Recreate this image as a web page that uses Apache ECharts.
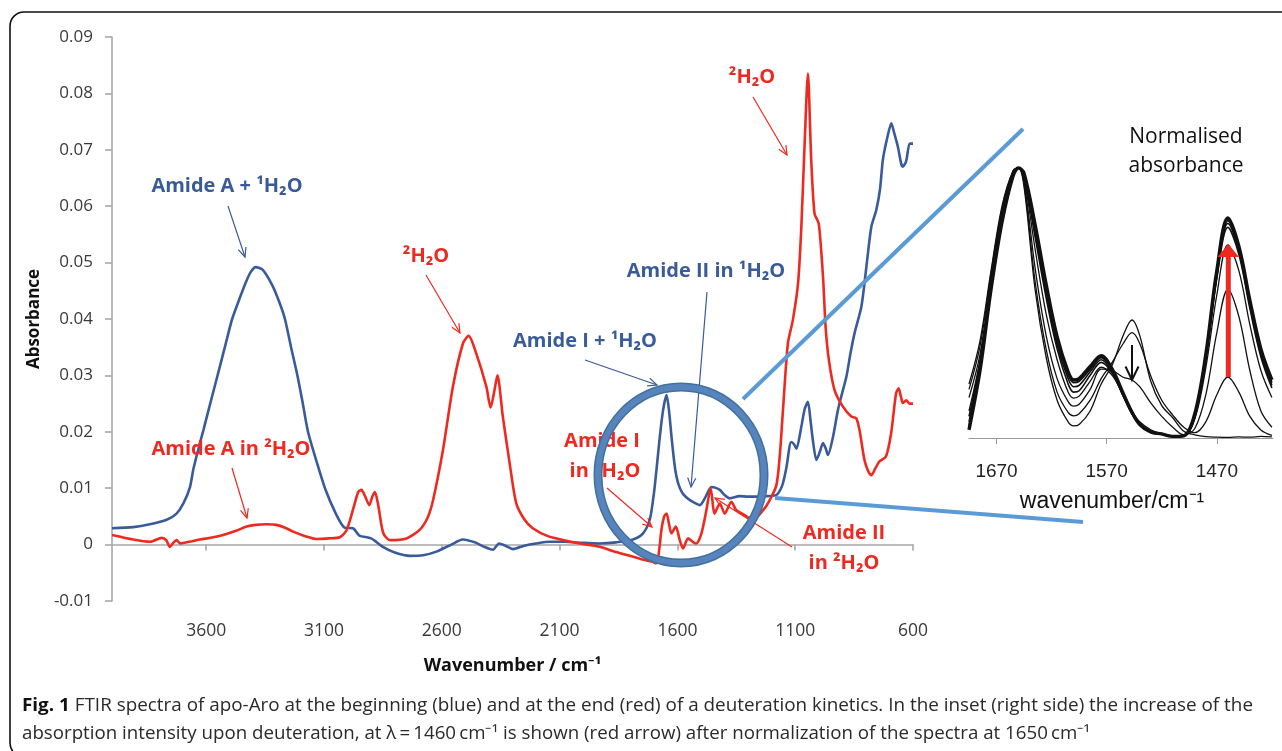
<!DOCTYPE html>
<html><head><meta charset="utf-8">
<script src="https://cdn.jsdelivr.net/npm/echarts@6/dist/echarts.min.js"></script>
<style>html,body{margin:0;padding:0;background:#fff}#c{width:1282px;height:751px}</style>
</head><body><div id="c"></div>
<script>
// ---------- main spectra (x = wavenumber / cm-1, y = absorbance) ----------
const wnBlue = [4000,3910,3839,3768,3726,3697,3669,3655,3630,3612,3580,3545,3515,3490,3457,3430,3410,3390,3360,3320,3290,3266,3240,3213,3190,3168,3130,3096,3050,3012,2977,2950,2900,2850,2800,2735,2680,2620,2560,2511,2460,2420,2383,2357,2330,2298,2250,2200,2142,2080,2000,1930,1860,1789,1746,1717,1700,1689,1675,1661,1646,1635,1625,1610,1597,1580,1565,1540,1505,1480,1456,1440,1420,1400,1378,1336,1300,1265,1220,1180,1155,1138,1117,1105,1095,1074,1060,1046,1035,1025,1010,995,982,970,961,940,919,900,883,865,848,819,798,777,756,740,728,710,692,680,664,650,643,629,614,600];
const absBlue = [0.0029,0.0031,0.0036,0.0044,0.0055,0.0073,0.0102,0.0133,0.0175,0.0203,0.0255,0.0311,0.036,0.040,0.0438,0.0467,0.0484,0.0492,0.0487,0.046,0.043,0.040,0.035,0.030,0.025,0.020,0.0145,0.010,0.0055,0.003,0.0029,0.0016,0.0011,-0.0004,-0.0014,-0.002,-0.0019,-0.0012,0.0,0.0009,0.0004,-0.0004,-0.0009,0.0002,-0.0002,-0.0008,-0.0002,0.0002,0.0005,0.0005,0.0003,0.0002,0.0004,0.0009,0.002,0.0045,0.009,0.0132,0.019,0.0238,0.0265,0.0235,0.0191,0.0135,0.0109,0.0092,0.0085,0.0077,0.007,0.0085,0.0102,0.0101,0.0097,0.0088,0.0082,0.0086,0.0085,0.0085,0.0086,0.0088,0.0105,0.0135,0.0182,0.0178,0.017,0.0209,0.024,0.0253,0.022,0.0185,0.015,0.0165,0.018,0.017,0.0159,0.019,0.0238,0.027,0.0297,0.034,0.0375,0.0422,0.0492,0.0563,0.0593,0.063,0.0682,0.072,0.0747,0.073,0.0705,0.0675,0.067,0.068,0.0711,0.0711];

const wnRed = [4000,3910,3838,3789,3770,3754,3740,3726,3710,3697,3660,3627,3570,3514,3470,3429,3390,3344,3302,3265,3231,3180,3132,3080,3033,3004,2975,2955,2941,2925,2908,2895,2884,2870,2849,2821,2750,2694,2660,2637,2595,2553,2510,2486,2454,2411,2393,2378,2364,2341,2312,2284,2250,2214,2150,2072,2000,1930,1862,1800,1744,1710,1689,1676,1668,1656,1646,1635,1625,1607,1590,1576,1555,1535,1520,1498,1477,1459,1442,1420,1399,1371,1350,1321,1279,1236,1208,1180,1165,1152,1131,1110,1088,1074,1060,1046,1032,1018,1000,982,971,957,933,898,862,841,827,806,790,777,760,743,715,693,672,661,650,643,629,615,600];
const absRed = [0.0017,0.0009,0.0005,0.0012,0.0008,-0.0004,0.0003,0.0008,0.0002,0.0003,0.0006,0.0009,0.0013,0.0019,0.0025,0.0032,0.0035,0.0036,0.0035,0.003,0.0023,0.0015,0.001,0.0011,0.0013,0.0026,0.0065,0.0093,0.0097,0.0085,0.007,0.0085,0.0093,0.007,0.0021,0.0008,0.0011,0.0026,0.0048,0.0079,0.0168,0.028,0.0357,0.037,0.0339,0.028,0.0243,0.027,0.030,0.0227,0.0144,0.0073,0.0045,0.0029,0.0015,0.0007,0.0001,-0.0004,-0.0013,-0.002,-0.0027,-0.003,-0.0033,-0.0005,0.0026,0.005,0.0055,0.0035,0.002,0.0032,0.0008,-0.0007,0.0011,0.0005,0.0002,0.002,0.0061,0.010,0.0055,0.0073,0.0055,0.0076,0.0061,0.0054,0.0044,0.0061,0.0079,0.0105,0.016,0.0238,0.0357,0.0398,0.0463,0.0563,0.0711,0.0835,0.0682,0.0587,0.0569,0.0475,0.0386,0.0327,0.0274,0.0245,0.0227,0.0224,0.0203,0.015,0.013,0.0123,0.0135,0.0147,0.0156,0.0197,0.0268,0.0277,0.026,0.0251,0.0256,0.025,0.025];

const mainXTicks = [600,1100,1600,2100,2600,3100,3600];

// ---------- inset: normalised absorbance ----------
const wnInset = [1695,1685,1675,1665,1655,1650,1645,1635,1625,1615,1605,1600,1595,1585,1575,1565,1555,1547,1540,1530,1520,1510,1500,1490,1480,1470,1460,1450,1440,1430,1420];
const inset0 = [0.20,0.36,0.62,0.86,0.99,1.0,0.93,0.55,0.30,0.14,0.06,0.045,0.05,0.10,0.20,0.27,0.38,0.437,0.38,0.21,0.12,0.075,0.025,0.012,0.005,0.003,0.002,0.004,0.003,0.006,0.004];
const inset1 = [0.18,0.34,0.61,0.85,0.99,1.0,0.94,0.58,0.33,0.17,0.095,0.082,0.09,0.14,0.22,0.28,0.35,0.39,0.35,0.23,0.14,0.085,0.04,0.02,0.06,0.16,0.226,0.17,0.08,0.03,0.01];
const inset2 = [0.15,0.31,0.59,0.84,0.985,1.0,0.95,0.63,0.38,0.22,0.135,0.118,0.125,0.18,0.255,0.25,0.225,0.215,0.19,0.13,0.08,0.04,0.012,0.035,0.16,0.39,0.55,0.45,0.25,0.10,0.04];
const inset3 = [0.10,0.29,0.57,0.82,0.98,1.0,0.96,0.70,0.46,0.29,0.17,0.148,0.155,0.21,0.262,0.232,0.16,0.10,0.06,0.03,0.015,0.008,0.01,0.07,0.26,0.53,0.715,0.62,0.42,0.25,0.15];
const inset4 = [0.08,0.28,0.565,0.815,0.978,1.0,0.965,0.745,0.52,0.33,0.20,0.17,0.175,0.232,0.28,0.24,0.155,0.09,0.048,0.02,0.013,0.007,0.01,0.078,0.29,0.59,0.78,0.68,0.48,0.30,0.185];
const inset5 = [0.06,0.27,0.56,0.81,0.975,1.0,0.97,0.76,0.54,0.345,0.22,0.19,0.195,0.245,0.29,0.245,0.157,0.09,0.048,0.021,0.014,0.007,0.01,0.08,0.295,0.60,0.795,0.69,0.49,0.31,0.195];
const inset6 = [0.045,0.26,0.555,0.805,0.97,1.0,0.975,0.775,0.555,0.36,0.235,0.205,0.21,0.255,0.298,0.25,0.16,0.092,0.05,0.022,0.014,0.007,0.009,0.08,0.30,0.61,0.805,0.70,0.50,0.32,0.205];
const insetFinal = [0.03,0.25,0.55,0.80,0.97,1.0,0.98,0.79,0.57,0.375,0.245,0.215,0.22,0.265,0.305,0.255,0.165,0.095,0.05,0.022,0.015,0.006,0.008,0.09,0.31,0.62,0.815,0.71,0.51,0.33,0.215];
const insetXTicks = [1470,1570,1670];

// ---------- texts ----------
const caption1Bold = 'Fig. 1';
const caption1 = ' FTIR spectra of apo-Aro at the beginning (blue) and at the end (red) of a deuteration kinetics. In the inset (right side) the increase of the';
const caption2 = 'absorption intensity upon deuteration, at \u03bb\u2009=\u20091460\u2009cm\u207b\u00b9 is shown (red arrow) after normalization of the spectra at 1650\u2009cm\u207b\u00b9';

const BLUE = '#3a5b99', RED = '#ee2a20', LBLUE = '#5b9bd5';
const FONT = '"Open Sans", "Noto Sans", sans-serif';

const chart = echarts.init(document.getElementById('c'), null, {renderer: 'canvas'});
const pair = (xs, ys) => xs.map((x, i) => [x, ys[i]]);

const mctx = document.createElement('canvas').getContext('2d');
function tw(t, f) { mctx.font = f; return mctx.measureText(t).width; }

function arrow(x1, y1, x2, y2, color, w, h) {
  const a = Math.atan2(y2 - y1, x2 - x1), sp = 0.42; h = h || 10;
  return [
    {type: 'line', z: 70, shape: {x1, y1, x2, y2}, style: {stroke: color, lineWidth: w}},
    {type: 'polyline', z: 70, shape: {points: [[x2 - h * Math.cos(a - sp), y2 - h * Math.sin(a - sp)], [x2, y2], [x2 - h * Math.cos(a + sp), y2 - h * Math.sin(a + sp)]]}, style: {stroke: color, lineWidth: w, fill: null}}
  ];
}
function label(x, y, text, color, size) {
  return {type: 'text', z: 50, x, y, style: {text, fill: color, font: 'bold ' + (size || 20) + 'px ' + FONT, align: 'center', verticalAlign: 'middle'}};
}

const capFontB = 'bold 18px "Open Sans"', capFont = '18px "Open Sans"';
const s1 = 1231 / (tw(caption1Bold, capFontB) + tw(caption1, capFont));
const s2 = 1068 / tw(caption2, capFont);

const insetLine = (data, w) => ({
  type: 'line', xAxisIndex: 1, yAxisIndex: 1, data: pair(wnInset, data), showSymbol: false, symbol: 'none',
  smooth: 0.35, clip: false, lineStyle: {color: '#111', width: w}, z: 3, silent: true
});

const graphic = [
  {type: 'rect', z: 1, shape: {x: 10, y: 12, width: 1300, height: 745, r: 14}, style: {fill: null, stroke: '#111', lineWidth: 1.6}},
  // labels
  label(227, 186, 'Amide A + \u00b9H\u2082O', BLUE),
  label(231, 449, 'Amide A in \u00b2H\u2082O', RED),
  label(426, 256, '\u00b2H\u2082O', RED),
  label(752, 77, '\u00b2H\u2082O', RED),
  label(706, 271, 'Amide II in \u00b9H\u2082O', BLUE),
  label(585, 341, 'Amide I + \u00b9H\u2082O', BLUE),
  label(602, 441, 'Amide I', RED),
  label(605, 471, 'in \u00b2H\u2082O', RED),
  label(844, 533, 'Amide II', RED),
  label(844, 563, 'in \u00b2H\u2082O', RED),
  ...arrow(228, 206, 245, 257, BLUE, 1.2),
  ...arrow(232, 468, 247, 518, RED, 1.2),
  ...arrow(426, 275, 460, 333, RED, 1.2),
  ...arrow(753, 97, 787, 155, RED, 1.2),
  ...arrow(707, 292, 691, 487, BLUE, 1.2),
  ...arrow(585, 360, 657, 385, BLUE, 1.2),
  ...arrow(607, 488, 652, 527, RED, 1.2),
  ...arrow(792, 547, 715, 498, RED, 1.2),
  // magnifier circle and connecting lines
  {type: 'ellipse', z: 80, shape: {cx: 681, cy: 475, rx: 83, ry: 88}, style: {fill: null, stroke: '#41719c', lineWidth: 9}},
  {type: 'ellipse', z: 81, shape: {cx: 681, cy: 475, rx: 83, ry: 88}, style: {fill: null, stroke: '#5884be', lineWidth: 6}},
  {type: 'line', z: 80, shape: {x1: 743, y1: 399, x2: 1023, y2: 129}, style: {stroke: LBLUE, lineWidth: 4}},
  {type: 'line', z: 80, shape: {x1: 775, y1: 498, x2: 1083, y2: 522}, style: {stroke: LBLUE, lineWidth: 4}},
  // inset texts and arrows
  {type: 'text', z: 50, x: 1186, y: 137, style: {text: 'Normalised', fill: '#111', font: '21px ' + FONT, align: 'center', verticalAlign: 'middle'}},
  {type: 'text', z: 50, x: 1186, y: 166, style: {text: 'absorbance', fill: '#111', font: '21px ' + FONT, align: 'center', verticalAlign: 'middle'}},
  {type: 'line', z: 60, shape: {x1: 1132, y1: 345, x2: 1132, y2: 379}, style: {stroke: '#111', lineWidth: 2}},
  {type: 'polyline', z: 60, shape: {points: [[1125.5, 366.5], [1132, 380], [1138.5, 366.5]]}, style: {stroke: '#111', lineWidth: 2, fill: null}},
  {type: 'line', z: 60, shape: {x1: 1228.3, y1: 377, x2: 1228.3, y2: 255}, style: {stroke: RED, lineWidth: 5}},
  {type: 'polygon', z: 60, shape: {points: [[1217.5, 257], [1239, 257], [1228.3, 244]]}, style: {fill: RED}},
  // caption
  {type: 'text', z: 50, x: 22, y: 706, scaleX: s1, style: {text: '{b|' + caption1Bold + '}' + caption1, font: capFont, fill: '#2a2a2a', verticalAlign: 'middle', align: 'left', rich: {b: {font: capFontB, fill: '#111'}}}},
  {type: 'text', z: 50, x: 22, y: 734, scaleX: s2, style: {text: caption2, font: capFont, fill: '#2a2a2a', verticalAlign: 'middle', align: 'left'}}
];

const option = {
  animation: false,
  backgroundColor: '#fff',
  grid: [
    {left: 112, top: 37, width: 801, height: 564},
    {left: 969, top: 168, width: 304, height: 270}
  ],
  xAxis: [
    {gridIndex: 0, type: 'value', min: 600, max: 4000, inverse: true,
     name: 'Wavenumber / cm\u207b\u00b9', nameLocation: 'middle', nameGap: 56,
     nameTextStyle: {fontFamily: FONT, fontWeight: 'bold', fontSize: 18, color: '#111'},
     axisLine: {lineStyle: {color: '#a8a8a8', width: 1.6}},
     axisTick: {show: true, length: 6, customValues: mainXTicks, lineStyle: {color: '#a8a8a8', width: 1.6}},
     axisLabel: {customValues: mainXTicks, margin: 21, fontFamily: FONT, fontSize: 17.5, color: '#3a3a3a', formatter: v => String(v)},
     splitLine: {show: false}},
    {gridIndex: 1, type: 'value', min: 1419, max: 1695, inverse: true,
     name: 'wavenumber/cm\u207b\u00b9', nameLocation: 'middle', nameGap: 52,
     nameTextStyle: {fontFamily: 'Liberation Sans, Arial', fontSize: 23, color: '#111', padding: [0, 18, 0, 0]},
     axisLine: {lineStyle: {color: '#999', width: 1}},
     axisTick: {show: true, length: 6, customValues: insetXTicks, lineStyle: {color: '#999'}},
     axisLabel: {customValues: insetXTicks, margin: 24, fontFamily: 'Liberation Sans, Arial', fontSize: 19, color: '#222', formatter: v => String(v)},
     splitLine: {show: false}}
  ],
  yAxis: [
    {gridIndex: 0, type: 'value', min: -0.01, max: 0.09, interval: 0.01,
     name: 'Absorbance', nameLocation: 'middle', nameGap: 63, nameRotate: 90,
     nameTextStyle: {fontFamily: FONT, fontWeight: 'bold', fontSize: 17, color: '#111'},
     axisLine: {show: true, lineStyle: {color: '#a8a8a8', width: 1.6}},
     axisTick: {show: true, length: 7, lineStyle: {color: '#a8a8a8', width: 1.6}},
     axisLabel: {margin: 19, fontFamily: FONT, fontSize: 17, color: '#3a3a3a',
       formatter: v => Math.abs(v) < 1e-9 ? '0' : v.toFixed(2)},
     splitLine: {show: false}},
    {gridIndex: 1, type: 'value', min: 0, max: 1, show: false, splitLine: {show: false}}
  ],
  series: [
    {type: 'line', name: 'start (1H2O)', xAxisIndex: 0, yAxisIndex: 0, data: pair(wnBlue, absBlue), showSymbol: false, symbol: 'none', smooth: 0.25, lineStyle: {color: BLUE, width: 2.6}, z: 4},
    {type: 'line', name: 'end (2H2O)', xAxisIndex: 0, yAxisIndex: 0, data: pair(wnRed, absRed), showSymbol: false, symbol: 'none', smooth: 0.25, lineStyle: {color: RED, width: 2.6}, z: 5},
    insetLine(inset0, 1.3), insetLine(inset1, 1.3), insetLine(inset2, 1.3), insetLine(inset3, 1.3),
    insetLine(inset4, 1.6), insetLine(inset5, 1.6), insetLine(inset6, 1.8), insetLine(insetFinal, 3.4)
  ],
  graphic: graphic
};
chart.setOption(option);
</script></body></html>
